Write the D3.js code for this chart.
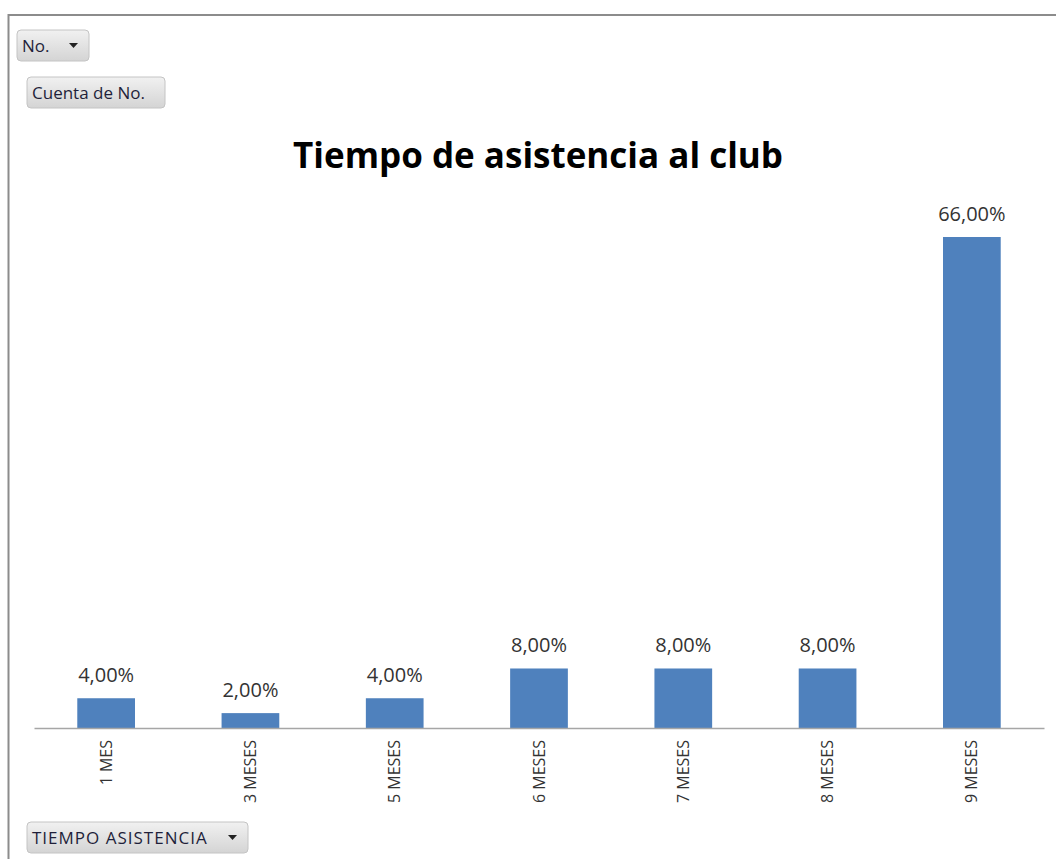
<!DOCTYPE html>
<html>
<head>
<meta charset="utf-8">
<script src="https://cdn.jsdelivr.net/npm/d3@7"></script>
<style>
  html, body { margin: 0; padding: 0; background: #fff; }
  svg { display: block; }
</style>
</head>
<body>
<svg id="chart" width="1056" height="859"></svg>
<script>
// Attendance time categories and their share of members (percent)
const categories = ["1 MES", "3 MESES", "5 MESES", "6 MESES", "7 MESES", "8 MESES", "9 MESES"];
const shares = [4, 2, 4, 8, 8, 8, 66];
const chartTitle = "Tiempo de asistencia al club";
const fieldButtons = [
  { label: "No.", x: 17, y: 30, w: 72, dropdown: true },
  { label: "Cuenta de No.", x: 27, y: 77, w: 138, dropdown: false },
  { label: "TIEMPO ASISTENCIA", x: 27, y: 822, w: 221, dropdown: true }
];

const svg = d3.select("#chart");
const W = 1056, H = 859;

const defs = svg.append("defs");
const grad = defs.append("linearGradient").attr("id", "btnGrad")
  .attr("x1", 0).attr("y1", 0).attr("x2", 0).attr("y2", 1);
grad.append("stop").attr("offset", "0%").attr("stop-color", "#f1f1f1");
grad.append("stop").attr("offset", "100%").attr("stop-color", "#d4d4d4");

// Chart area frame (top and left edges)
svg.append("line").attr("x1", 8).attr("x2", W).attr("y1", 15).attr("y2", 15)
  .attr("stroke", "#8c8c8c").attr("stroke-width", 2);
svg.append("line").attr("x1", 8.5).attr("x2", 8.5).attr("y1", 14).attr("y2", H)
  .attr("stroke", "#8c8c8c").attr("stroke-width", 2);

// Title
svg.append("text")
  .attr("x", 538).attr("y", 168)
  .attr("text-anchor", "middle")
  .attr("font-family", "'Open Sans', sans-serif")
  .attr("font-weight", "bold")
  .attr("font-size", 35)
  .attr("fill", "#000")
  .text(chartTitle);

// Scales
const plotLeft = 34, plotRight = 1044, baseY = 728;
const x = d3.scaleBand().domain(categories).range([plotLeft, plotRight]).paddingInner(0.6).paddingOuter(0.3);
const y = d3.scaleLinear().domain([0, 66]).range([baseY, 237]);

// Bars
svg.append("g").selectAll("rect")
  .data(categories)
  .join("rect")
  .attr("x", d => x(d))
  .attr("width", x.bandwidth())
  .attr("y", (d, i) => y(shares[i]))
  .attr("height", (d, i) => baseY - y(shares[i]))
  .attr("fill", "#4f81bd");

// Value labels
const fmt = v => d3.format(".2f")(v).replace(".", ",") + "%";
svg.append("g").selectAll("text")
  .data(categories)
  .join("text")
  .attr("x", d => x(d) + x.bandwidth() / 2)
  .attr("y", (d, i) => y(shares[i]) - 16)
  .attr("text-anchor", "middle")
  .attr("font-family", "'Open Sans', sans-serif")
  .attr("font-size", 20)
  .attr("fill", "#333")
  .text((d, i) => fmt(shares[i]));

// Category axis
const axis = svg.append("g").attr("transform", `translate(0,${baseY})`)
  .call(d3.axisBottom(x).tickSize(0).tickSizeOuter(0));
axis.select(".domain").attr("stroke", "#a6a6a6").attr("stroke-width", 1.5);
axis.selectAll(".tick text")
  .attr("font-family", "'Open Sans', sans-serif")
  .attr("font-size", 16)
  .attr("fill", "#333")
  .attr("transform", "rotate(-90)")
  .attr("text-anchor", "end")
  .attr("x", -12)
  .attr("y", 0)
  .attr("dy", "0.35em");

// Field buttons
const btn = svg.append("g").selectAll("g")
  .data(fieldButtons)
  .join("g")
  .attr("transform", d => `translate(${d.x},${d.y})`);
btn.append("rect")
  .attr("width", d => d.w).attr("height", 31)
  .attr("rx", 4)
  .attr("fill", "url(#btnGrad)")
  .attr("stroke", "#c4c4c4");
btn.append("text")
  .attr("x", 5).attr("y", 22)
  .attr("font-family", "'Open Sans', sans-serif")
  .attr("font-size", 17)
  .attr("letter-spacing", d => d.label === d.label.toUpperCase() && d.label.length > 5 ? 1 : 0)
  .attr("fill", "#1f1f3a")
  .text(d => d.label);
btn.filter(d => d.dropdown).append("path")
  .attr("d", d => `M${d.w - 20},13 h9 l-4.5,5 z`)
  .attr("fill", "#222");
</script>
</body>
</html>
